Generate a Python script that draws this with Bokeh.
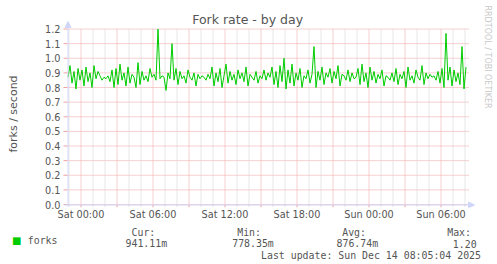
from bokeh.plotting import figure
from bokeh.layouts import column
from bokeh.models import (Range1d, FixedTicker, Label, Arrow, NormalHead, Title,
                          NumeralTickFormatter, LinearAxis)
from bokeh.embed import file_html
from bokeh.resources import INLINE

# ---------------- data ----------------
# fork rate (forks/second), 10-minute samples; first sample Fri 22:55,
# last Sun 08:05 (hours relative to Sat 00:00)
first_sample_hour = -1.0 - 5 / 60
sample_step_hours = 10 / 60
fork_rate = [
    0.87, 0.95, 0.83, 0.91, 0.79, 0.93,
    0.85, 0.92, 0.81, 0.94, 0.84, 0.90,
    0.80, 0.95, 0.86, 0.91, 0.88, 0.85,
    0.87, 0.86, 0.88, 0.84, 0.92, 0.80,
    0.93, 0.82, 0.96, 0.85, 0.90, 0.81,
    0.94, 0.83, 0.89, 0.87, 0.80, 0.97,
    0.82, 0.91, 0.85, 0.88, 0.84, 0.93,
    0.87, 0.89, 0.85, 1.20, 0.86, 0.88,
    0.87, 0.78, 0.90, 0.86, 1.10, 0.85,
    0.93, 0.82, 0.91, 0.86, 0.88, 0.83,
    0.92, 0.87, 0.85, 0.90, 0.81, 0.89,
    0.86, 0.88, 0.87, 0.85, 0.89, 0.86,
    0.94, 0.81, 0.90, 0.84, 0.93, 0.80,
    0.88, 0.96, 0.83, 0.91, 0.85, 0.89,
    0.82, 0.92, 0.86, 0.90, 0.84, 0.94,
    0.81, 0.89, 0.87, 0.85, 0.91, 0.83,
    0.88, 0.86, 0.92, 0.85, 0.90, 0.87,
    0.94, 0.82, 0.91, 0.80, 0.95, 0.84,
    1.00, 0.79, 0.92, 0.83, 0.96, 0.81,
    0.90, 0.85, 0.93, 0.80, 0.88, 0.86,
    0.92, 0.83, 0.89, 1.08, 0.80, 0.91,
    0.85, 0.94, 0.82, 0.90, 0.87, 0.93,
    0.83, 0.91, 0.86, 0.95, 0.81, 0.89,
    0.88, 0.85, 0.92, 0.84, 0.90, 0.86,
    0.87, 0.93, 0.82, 0.96, 0.84, 0.90,
    0.80, 0.94, 0.85, 0.91, 0.83, 0.89,
    0.86, 0.92, 0.81, 0.88, 0.87, 0.85,
    0.90, 0.84, 0.93, 0.82, 0.89, 0.86,
    0.91, 0.80, 0.94, 0.85, 0.88, 0.83,
    0.92, 0.87, 0.85, 0.95, 0.82, 0.90,
    0.86, 0.89, 0.87, 0.88, 0.85, 0.91,
    0.83, 0.93, 0.80, 1.17, 0.85, 0.94,
    0.81, 0.92, 0.84, 0.90, 0.82, 1.08,
    0.79, 0.94,
]
sample_hours = [first_sample_hour + i * sample_step_hours for i in range(len(fork_rate))]

x_label_hours = [0, 6, 12, 18, 24, 30]
x_labels = ["Sat 00:00", "Sat 06:00", "Sat 12:00", "Sat 18:00", "Sun 00:00", "Sun 06:00"]
x_major_grid_hours = [0, 3, 6, 9, 12, 15, 18, 21, 24, 27, 30]
x_minor_grid_hours = [h for h in range(-1, 33) if h % 3 != 0]
y_ticks = [round(i * 0.1, 1) for i in range(13)]

legend_name = "forks"
stat_names = ["Cur:", "Min:", "Avg:", "Max:"]
stat_values = ["941.11m", "778.35m", "876.74m", "1.20"]
last_update = "Last update: Sun Dec 14 08:05:04 2025"
title_text = "Fork rate - by day"
y_label_text = "forks / second"
watermark = "RRDTOOL / TOBI OETIKER"

# ---------------- layout constants (pixels) ----------------
W, H = 497, 264
H_CHART = 223
FL, FR, FT, FB = 62, 482, 20, 207          # plot frame on the canvas
PX_PER_HOUR = 12.0
X0_PX = 80.5                                # pixel of Sat 00:00
Y0_PX, Y12_PX = 204.0, 28.5                 # pixels of 0.0 and 1.2
PX_PER_UNIT = (Y0_PX - Y12_PX) / 1.2

def hx(px):
    return (px - X0_PX) / PX_PER_HOUR

def vy(py):
    return (Y0_PX - py) / PX_PER_UNIT

TEXT = "#555555"
GRID_RED = "#f0a0a0"
GRID_GRAY = "#cfcfcf"
AXIS_BLUE = "#cfd6f8"
LINE_GREEN = "#00cc00"

p = figure(width=W, height=H_CHART, output_backend="svg", toolbar_location=None,
           x_range=Range1d(hx(FL), hx(FR)), y_range=Range1d(vy(FB), vy(FT)),
           min_border_left=FL, min_border_right=W - FR,
           min_border_top=FT, min_border_bottom=H_CHART - FB)
p.outline_line_color = None
p.background_fill_color = "white"
p.border_fill_color = "white"
p.xgrid.visible = False
p.ygrid.visible = False

p.title = Title(text=title_text, align="left", offset=191.7 - FL, standoff=-12,
                vertical_align="bottom", text_font="DejaVu Sans",
                text_font_size="12.5px", text_font_style="normal", text_color=TEXT)
p.add_layout(Title(text=watermark, align="left", offset=5 - FT, standoff=0,
                   vertical_align="bottom", text_font="DejaVu Sans",
                   text_font_size="8px", text_font_style="normal",
                   text_color="#c8c8c8"), "right")

xa = p.xaxis[0]
xa.ticker = FixedTicker(ticks=x_label_hours)
xa.major_label_overrides = {h: lab for h, lab in zip(x_label_hours, x_labels)}
xa.axis_line_color = None
xa.major_tick_line_color = None
xa.minor_tick_line_color = None
xa.major_tick_out = 0
xa.major_tick_in = 0
xa.minor_tick_out = 0
xa.minor_tick_in = 0
xa.major_label_standoff = 1
xa.major_label_text_font = "DejaVu Sans"
xa.major_label_text_font_size = "9.7px"
xa.major_label_text_color = TEXT

ya = p.yaxis[0]
ya.ticker = FixedTicker(ticks=y_ticks)
ya.formatter = NumeralTickFormatter(format="0.0")
ya.axis_line_color = None
ya.major_tick_line_color = None
ya.minor_tick_line_color = None
ya.major_tick_out = 0
ya.major_tick_in = 0
ya.minor_tick_out = 0
ya.minor_tick_in = 0
ya.major_label_standoff = 2
ya.major_label_text_font = "DejaVu Sans"
ya.major_label_text_font_size = "9.7px"
ya.major_label_text_color = TEXT
ya.axis_label = y_label_text
ya.axis_label_standoff = 22
ya.axis_label_text_font = "DejaVu Sans"
ya.axis_label_text_font_size = "11px"
ya.axis_label_text_font_style = "normal"
ya.axis_label_text_color = TEXT

# grid lines (dotted) and tick marks
gx0, gx1 = hx(67), hx(469)
ny, nmi, nma = len(y_ticks), len(x_minor_grid_hours), len(x_major_grid_hours)
p.segment(x0=[gx0] * ny, x1=[gx1] * ny, y0=y_ticks, y1=y_ticks,
          line_color=GRID_RED, line_width=1, line_dash="1 1")
p.segment(x0=[hx(63)] * ny, x1=[gx0] * ny, y0=y_ticks, y1=y_ticks,
          line_color=GRID_RED, line_width=1)
p.segment(x0=x_minor_grid_hours, x1=x_minor_grid_hours,
          y0=[0] * nmi, y1=[y_ticks[-1]] * nmi,
          line_color=GRID_GRAY, line_width=1, line_dash="1 1")
p.segment(x0=x_minor_grid_hours, x1=x_minor_grid_hours,
          y0=[vy(206)] * nmi, y1=[0] * nmi, line_color=GRID_GRAY, line_width=1)
p.segment(x0=x_major_grid_hours, x1=x_major_grid_hours,
          y0=[0] * nma, y1=[y_ticks[-1]] * nma,
          line_color=GRID_RED, line_width=1, line_dash="1 1")
p.segment(x0=x_major_grid_hours, x1=x_major_grid_hours,
          y0=[vy(207)] * nma, y1=[0] * nma, line_color=GRID_RED, line_width=1)

p.line(sample_hours, fork_rate, line_color=LINE_GREEN, line_width=1)

p.add_layout(Arrow(x_start=hx(67.5), y_start=vy(206), x_end=hx(67.5), y_end=vy(21),
                   line_color=AXIS_BLUE, line_width=1,
                   end=NormalHead(size=6, fill_color=AXIS_BLUE, line_color=AXIS_BLUE)))
p.add_layout(Arrow(x_start=hx(64), y_start=vy(204.5), x_end=hx(474), y_end=vy(204.5),
                   line_color=AXIS_BLUE, line_width=1,
                   end=NormalHead(size=6, fill_color=AXIS_BLUE, line_color=AXIS_BLUE)))

# ---------------- legend strip (pixel-like coordinates) ----------------
H_LEG = H - H_CHART

def ly(py):
    return H - py

leg = figure(width=W, height=H_LEG, output_backend="svg", toolbar_location=None,
             x_axis_location=None, y_axis_location=None,
             x_range=Range1d(FL, FR), y_range=Range1d(0, H_LEG),
             min_border_left=FL, min_border_right=W - FR,
             min_border_top=0, min_border_bottom=0)
leg.grid.visible = False
leg.outline_line_color = None
leg.background_fill_color = "white"
leg.border_fill_color = "white"

ROW2 = ly(239.5)

def side_axis(label, font, size, color, standoff):
    ax = LinearAxis(ticker=FixedTicker(ticks=[ROW2]),
                    major_label_overrides={ROW2: label})
    ax.axis_line_color = None
    ax.major_tick_line_color = None
    ax.minor_tick_line_color = None
    ax.major_tick_out = 0
    ax.major_tick_in = 0
    ax.minor_tick_out = 0
    ax.minor_tick_in = 0
    ax.major_label_standoff = standoff
    ax.major_label_text_font = font
    ax.major_label_text_font_size = size
    ax.major_label_text_color = color
    leg.add_layout(ax, "left")

MONO = "DejaVu Sans Mono"
side_axis(legend_name, MONO, "9.9px", TEXT, 5)          # "forks"
side_axis("\u25a0", "DejaVu Sans", "10px", LINE_GREEN, 3)  # colour swatch

mono = dict(text_font=MONO, text_font_size="9.9px", text_color=TEXT,
            text_baseline="alphabetic")

def leg_label(x, py, text):
    leg.add_layout(Label(x=x, y=ly(py), text=text, **mono))

for nm, nx in zip(stat_names, [131, 236.7, 341.7, 446.7]):
    leg_label(nx, 232, nm)
for vv, vx in zip(stat_values, [125, 231.7, 336, 452.3]):
    leg_label(vx, 243, vv)
leg_label(260.5, 254.5, last_update)

layout = column(p, leg, spacing=0)
open("out.html", "w").write(file_html(layout, INLINE))
